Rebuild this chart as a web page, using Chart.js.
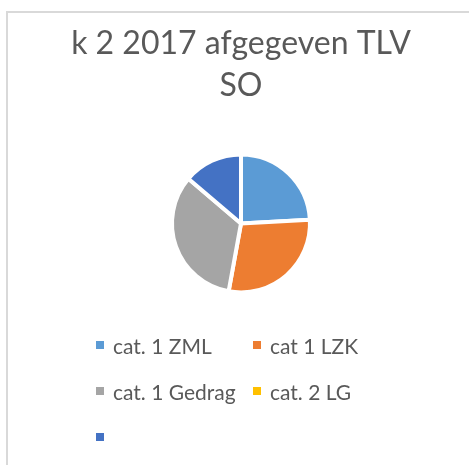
<!DOCTYPE html>
<html>
<head>
<meta charset="utf-8">
<script src="https://cdn.jsdelivr.net/npm/chart.js@4.4.1/dist/chart.umd.min.js"></script>
<style>
  html, body { margin: 0; padding: 0; background: #fff; overflow: hidden; }
  body { width: 469px; height: 465px; position: relative; }
  #frame {
    position: absolute; left: 6px; top: 11px; width: 500px; height: 500px;
    border: 2px solid #d9d9d9; box-sizing: border-box;
  }
  #wrap { position: absolute; left: 0; top: 0; width: 488px; height: 340px; }
  #legend {
    position: absolute; left: 96px; top: 322px;
    display: grid; grid-template-columns: 157px auto; grid-auto-rows: 46px;
    font-family: Lato, "Noto Sans", sans-serif; font-size: 21px; color: #595959;
  }
  .item { display: flex; align-items: center; white-space: nowrap; }
  .box { width: 8px; height: 8px; margin-right: 9px; flex: none; }
</style>
</head>
<body>
<div id="frame"></div>
<div id="wrap"><canvas id="chart" width="488" height="340"></canvas></div>
<div id="legend"></div>
<script>
// categories and values
const categories = ["cat. 1 ZML", "cat 1 LZK", "cat. 1 Gedrag", "cat. 2 LG", ""];
const values = [21, 25, 29, 0, 12];
const colors = ["#5B9BD5", "#ED7D31", "#A5A5A5", "#FFC000", "#4472C4"];
const titleLines = ["k 2 2017 afgegeven TLV", "SO"];

const ctx = document.getElementById("chart").getContext("2d");
const chart = new Chart(ctx, {
  type: "pie",
  data: {
    labels: categories,
    datasets: [
      {
        data: values,
        backgroundColor: colors,
        borderColor: "#ffffff",
        borderWidth: 4,
        radius: 69,
      },
    ],
  },
  options: {
    responsive: false,
    animation: false,
    layout: { padding: { right: 6 } },
    plugins: {
      legend: { display: false },
      tooltip: { enabled: false },
      title: {
        display: true,
        text: titleLines,
        color: "#595959",
        font: { family: "Lato, 'Noto Sans', sans-serif", size: 32, weight: "normal", lineHeight: 1.31 },
        padding: { top: 23, bottom: 0 },
      },
    },
  },
});

// HTML legend in two columns, like the original
const legendDiv = document.getElementById("legend");
categories.forEach((label, i) => {
  const item = document.createElement("div");
  item.className = "item";
  const box = document.createElement("span");
  box.className = "box";
  box.style.background = colors[i];
  const text = document.createElement("span");
  text.textContent = label;
  item.appendChild(box);
  item.appendChild(text);
  legendDiv.appendChild(item);
});
</script>
</body>
</html>
